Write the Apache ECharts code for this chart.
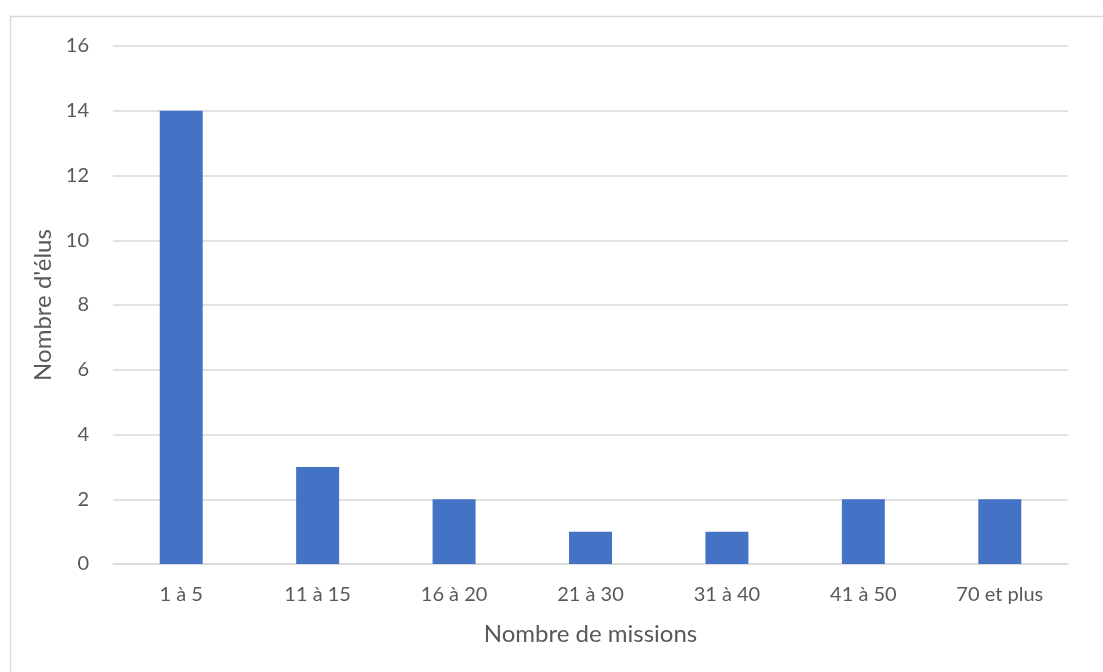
<!DOCTYPE html>
<html><head><meta charset="utf-8">
<script src="https://cdn.jsdelivr.net/npm/echarts@6/dist/echarts.min.js"></script>
<style>html,body{margin:0;padding:0;background:#fff}#c{width:1103px;height:672px}</style>
</head><body><div id="c"></div>
<script>
const categories = ['1 à 5','11 à 15','16 à 20','21 à 30','31 à 40','41 à 50','70 et plus'];
const values = [14,3,2,1,1,2,2];
const yTicks = [0,2,4,6,8,10,12,14,16];
const xTitle = 'Nombre de missions';
const yTitle = "Nombre d'élus";

const font = "Lato, 'Open Sans', sans-serif";
const chart = echarts.init(document.getElementById('c'), null, {renderer:'canvas'});
chart.setOption({
  animation:false,
  backgroundColor:'#fff',
  graphic:[{type:'rect', shape:{x:10.5,y:16.5,width:1100,height:700}, style:{fill:'none', stroke:'#d9d9d9', lineWidth:1.5}, silent:true}],
  grid:{left:113, right:35, top:46, bottom:108},
  xAxis:{type:'category', data:categories,
    name:xTitle, nameLocation:'middle', nameGap:58,
    nameTextStyle:{color:'#595959', fontSize:24, fontFamily:font},
    axisLine:{lineStyle:{color:'#d9d9d9', width:1.5}}, axisTick:{show:false},
    axisLabel:{color:'#595959', fontSize:20, fontFamily:font, margin:21}},
  yAxis:{type:'value', min:yTicks[0], max:yTicks[yTicks.length-1], interval:2,
    name:yTitle, nameLocation:'middle', nameGap:58,
    nameTextStyle:{color:'#595959', fontSize:24, fontFamily:font},
    axisLine:{show:false}, axisTick:{show:false},
    axisLabel:{color:'#595959', fontSize:20, fontFamily:font, margin:24},
    splitLine:{lineStyle:{color:'#d9d9d9', width:1.5}}},
  series:[{type:'bar', data:values, barWidth:'31.5%', itemStyle:{color:'#4472C4'}}]
});
</script></body></html>
